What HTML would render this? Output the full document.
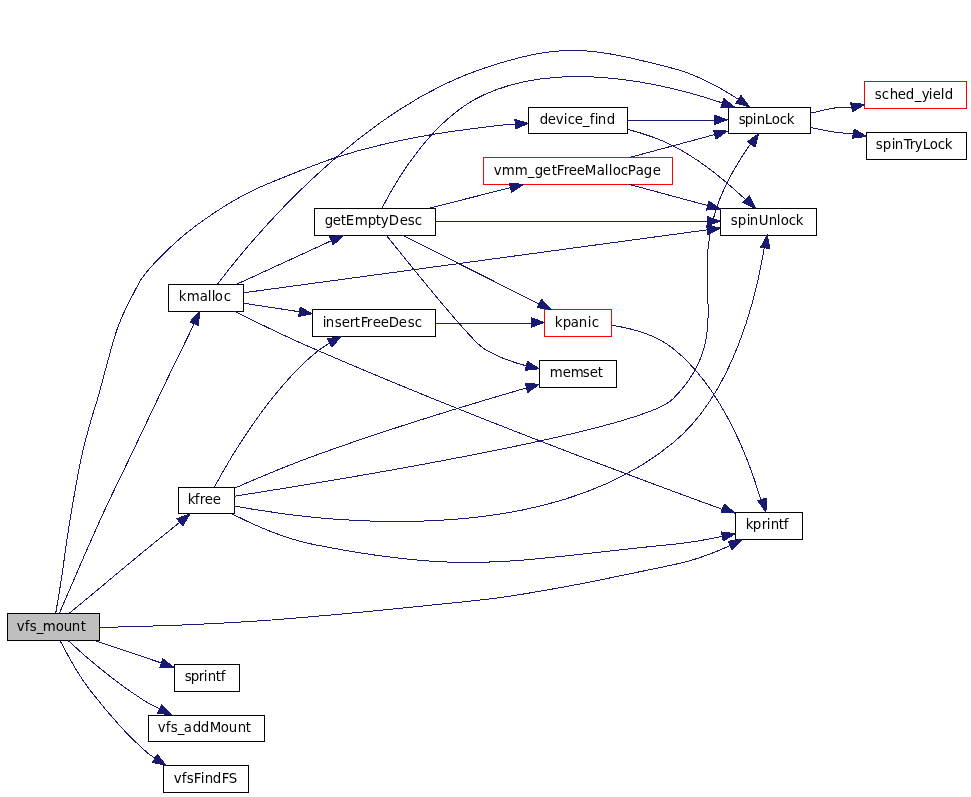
<!DOCTYPE html>
<html lang="en">
<head>
<meta charset="utf-8">
<title>vfs_mount call graph</title>
<style>
html,body{margin:0;padding:0;background:#fff;}
body{width:971px;height:797px;overflow:hidden;}
svg{display:block;}
.n rect{stroke-width:1;shape-rendering:crispEdges;}
.n text{filter:grayscale(1);font-family:"DejaVu Sans","Liberation Sans",sans-serif;font-size:13.33px;fill:#000;}
.e path{fill:none;stroke:#191970;stroke-width:1;shape-rendering:crispEdges;}
.e polygon{fill:#191970;stroke:#191970;stroke-width:1;stroke-linejoin:round;shape-rendering:crispEdges;}
</style>
</head>
<body>
<svg width="971" height="797" viewBox="0 0 971 797">
<rect x="0" y="0" width="971" height="797" fill="#ffffff"/>
<g class="n">
<rect x="7.5" y="613.5" width="92" height="27" fill="#bfbfbf" stroke="#000000"/>
<text x="16.79 24.79 29.79 36.79 42.79 55.79 63.79 71.79 80.79" y="631">vfs_mount</text>
<rect x="528.5" y="107.5" width="99" height="26" fill="#ffffff" stroke="#000000"/>
<text x="539.79 547.79 555.79 563.79 567.79 574.79 582.79 589.79 594.79 597.79 606.79" y="124">device_find</text>
<rect x="178.5" y="487.5" width="56" height="26" fill="#ffffff" stroke="#000000"/>
<text x="187.79 194.79 199.79 204.79 212.79" y="504">kfree</text>
<rect x="735.5" y="512.5" width="67" height="27" fill="#ffffff" stroke="#000000"/>
<text x="745.79 752.79 761.79 766.79 770.79 778.79 783.79" y="529">kprintf</text>
<rect x="168.5" y="284.5" width="75" height="27" fill="#ffffff" stroke="#000000"/>
<text x="178.79 186.79 199.79 207.79 211.79 214.79 223.79" y="301">kmalloc</text>
<rect x="174.5" y="664.5" width="65" height="27" fill="#ffffff" stroke="#000000"/>
<text x="184.79 190.79 198.79 203.79 207.79 215.79 220.79" y="681">sprintf</text>
<rect x="148.5" y="715.5" width="116" height="26" fill="#ffffff" stroke="#000000"/>
<text x="157.79 165.79 170.79 177.79 183.79 192.79 200.79 209.79 220.79 228.79 237.79 245.79" y="732">vfs_addMount</text>
<rect x="163.5" y="765.5" width="85" height="27" fill="#ffffff" stroke="#000000"/>
<text x="173.79 181.79 186.79 193.79 200.79 204.79 212.79 221.79 228.79" y="783">vfsFindFS</text>
<rect x="728.5" y="107.5" width="82" height="26" fill="#ffffff" stroke="#000000"/>
<text x="738.79 744.79 752.79 756.79 764.79 771.79 779.79 786.79" y="124">spinLock</text>
<rect x="720.5" y="208.5" width="96" height="27" fill="#ffffff" stroke="#000000"/>
<text x="730.79 737.79 746.79 749.79 758.79 768.79 776.79 780.79 788.79 795.79" y="225">spinUnlock</text>
<rect x="864.5" y="81.5" width="102" height="27" fill="#ffffff" stroke="#ff0000"/>
<text x="874.79 881.79 889.79 897.79 905.79 914.79 921.79 928.79 932.79 940.79 944.79" y="99">sched_yield</text>
<rect x="866.5" y="132.5" width="100" height="27" fill="#ffffff" stroke="#000000"/>
<text x="875.79 882.79 891.79 894.79 903.79 909.79 914.79 922.79 929.79 937.79 944.79" y="149">spinTryLock</text>
<rect x="312.5" y="309.5" width="123" height="27" fill="#ffffff" stroke="#000000"/>
<text x="322.79 325.79 334.79 341.79 349.79 354.79 360.79 366.79 372.79 380.79 388.79 398.79 407.79 414.79" y="327">insertFreeDesc</text>
<rect x="539.5" y="360.5" width="77" height="27" fill="#ffffff" stroke="#000000"/>
<text x="549.79 562.79 570.79 582.79 589.79 597.79" y="377">memset</text>
<rect x="544.5" y="309.5" width="67" height="27" fill="#ffffff" stroke="#ff0000"/>
<text x="554.79 562.79 570.79 578.79 587.79 591.79" y="327">kpanic</text>
<rect x="314.5" y="208.5" width="121" height="27" fill="#ffffff" stroke="#000000"/>
<text x="324.79 332.79 340.79 345.79 354.79 367.79 375.79 380.79 388.79 399.79 407.79 414.79" y="225">getEmptyDesc</text>
<rect x="483.5" y="157.5" width="189" height="27" fill="#ffffff" stroke="#ff0000"/>
<text x="493.79 501.79 514.79 527.79 534.79 542.79 551.79 556.79 563.79 568.79 576.79 584.79 596.79 604.79 608.79 612.79 620.79 627.79 635.79 643.79 652.79" y="175">vmm_getFreeMallocPage</text>
</g>
<g class="e">
<path d="M55.7,613.4 C56.7,607.32 59.58,590.77 61.7,576.9 63.82,563.03 65.33,549.12 68.4,530.2 71.47,511.28 76.48,481.2 80.1,463.4 83.72,445.6 87.05,434.63 90.1,423.4 93.15,412.17 93.95,411.53 98.4,396 102.85,380.47 110.95,347.28 116.8,330.2 122.65,313.12 128.5,303.23 133.5,293.5 138.5,283.77 139.02,280.98 146.8,271.8 154.58,262.62 169.08,248.13 180.2,238.4 191.32,228.67 201.82,221.18 213.5,213.4 225.18,205.62 236.95,198.37 250.3,191.7 263.65,185.03 279.48,179.05 293.6,173.4 307.72,167.75 320.58,162.52 335,157.8 349.42,153.08 363.97,148.97 380.1,145.1 396.23,141.23 415.25,137.48 431.8,134.6 448.35,131.72 467.33,129.42 479.4,127.8 491.47,126.18 498.23,125.49 504.2,124.9 510.17,124.31 513.37,124.34 515.2,124.23 L516.2,124.16"/>
<polygon points="515.53,128.89 528.5,123.3 514.88,119.57"/>
<path d="M69.2,613.4 C74.33,609.13 88.2,597.62 100,587.8 111.8,577.98 126.71,565.42 140,554.5 153.29,543.58 173.11,527.66 179.73,522.29 L180.5,521.66"/>
<polygon points="182.7,525.89 190,513.8 176.75,518.7"/>
<path d="M99.5,627.5 C113.32,627.08 154.85,626.17 182.4,625 209.95,623.83 237.33,622.42 264.8,620.5 292.27,618.58 319.73,616.03 347.2,613.5 374.67,610.97 404.13,607.95 429.6,605.3 455.07,602.65 477.18,600.73 500,597.6 522.82,594.47 545.02,590.43 566.5,586.5 587.98,582.57 608.8,578.17 628.9,574 649,569.83 672.53,565.25 687.1,561.5 701.67,557.75 709.15,554.18 716.3,551.5 723.45,548.82 727.73,546.45 730.02,545.44 L730.91,545"/>
<polygon points="732.06,549.63 742,539.6 727.97,541.24"/>
<path d="M59.3,613.4 C66.1,597.85 87.73,547.33 100.1,520.1 112.47,492.87 122.38,473.35 133.5,450 144.62,426.65 156.68,401.04 166.8,380 176.92,358.96 189.64,333.16 194.2,323.79 L194.61,322.87"/>
<polygon points="198.48,325.68 199.6,311.6 189.93,321.9"/>
<path d="M94.63,640.44 C114.57,647.17 138.79,655.36 159.45,662.33 L162.34,663.57"/>
<polygon points="162.89,658.83 174.03,667.52 159.9,667.68"/>
<path d="M68.1,640.5 C71.68,643.7 81.03,652.52 89.6,659.7 98.17,666.88 110.53,676.87 119.5,683.6 128.47,690.33 136.69,695.88 143.4,700.1 150.11,704.32 157.01,707.45 159.74,708.92 L160.63,709.38"/>
<polygon points="157.61,713.08 171.6,715 161.87,704.77"/>
<path d="M59.9,640.5 C62.37,644.95 69.75,659.02 74.7,667.2 79.65,675.38 82.13,679.9 89.6,689.6 97.07,699.3 110.53,715.45 119.5,725.4 128.47,735.35 137.5,743.81 143.4,749.3 149.3,754.79 152.98,756.84 154.89,758.34 L155.74,758.87"/>
<polygon points="152.42,762.31 166.2,765.4 157.36,754.38"/>
<path d="M627.91,120.5 C654.22,120.5 686.82,120.5 713.9,120.5 L715.17,119.83"/>
<polygon points="714.17,115.17 727.5,119.83 714.17,124.5"/>
<path d="M627.9,129.45 C642.79,133.31 658.91,138.59 672.83,145.67 699.59,159.28 725.87,181.28 743.94,198.11 L746.54,199.77"/>
<polygon points="749.05,195.7 755.45,208.3 742.59,202.45"/>
<path d="M810.5,113.2 C812.18,112.82 817.2,111.67 820.6,110.9 824,110.13 827.47,109.22 830.9,108.6 834.33,107.98 837.75,107.4 841.2,107.2 844.65,107 849.87,107.35 851.61,107.38 L852.58,107.15"/>
<polygon points="852.65,111.93 864.6,104.4 850.56,102.82"/>
<path d="M810.5,127.4 C812.7,127.87 819.27,129.35 823.7,130.2 828.13,131.05 833.22,131.98 837.1,132.5 840.98,133.02 844.29,133.1 847,133.3 849.71,133.5 852.29,133.61 853.35,133.67 L854.33,133.88"/>
<polygon points="852.4,138.24 866.4,136.4 854.31,129.1"/>
<path d="M234.41,496.21 C328.83,481.49 641.19,430.79 672.83,399 738.14,333.4 685.5,281.89 720.83,196.33 728.23,178.4 739.58,159.81 749.22,145.52 L751.77,143.59"/>
<polygon points="747.37,141.74 758.81,133.47 755.03,147.07"/>
<path d="M234.39,505.96 C312.27,520.61 540.83,551.6 672.83,443 733.99,392.68 756.47,295.59 764.03,248.53 L765.41,246.94"/>
<polygon points="760.65,247.25 767.19,234.73 769.89,248.6"/>
<path d="M214.55,486.73 C229.5,459 266.79,395.12 312.83,355 317.81,350.67 323.46,346.71 329.26,343.16 L330.45,342.49"/>
<polygon points="327.3,338.91 341.21,336.47 331.86,347.05"/>
<path d="M231.73,513.71 C252.53,524.39 283.69,538.49 312.83,544.33 469.71,575.79 513.59,559.88 672.83,544.33 689.09,542.75 706.67,539.67 722.25,536.45 L723.25,536.23"/>
<polygon points="721.29,531.88 735.31,533.63 723.26,541"/>
<path d="M234.51,488.24 C255.63,478.99 285.83,466.17 312.83,456.33 386.26,429.57 472.99,403.43 526.46,387.93 L527.46,387.65"/>
<polygon points="525.21,383.44 539.31,384.23 527.79,392.41"/>
<path d="M435.9,323.5 C466.42,323.5 502.86,323.5 531.03,323.5 L532.21,322.5"/>
<polygon points="531.21,317.83 544.54,322.5 531.21,327.17"/>
<path d="M611.78,325.35 C631.23,328.21 655.5,334.52 672.83,348.33 722.21,387.67 749.07,459.96 760.58,498.99 L762.55,500.3"/>
<polygon points="766.78,498.08 765.86,512.19 757.79,500.59"/>
<path d="M217.59,283.99 C250.14,241.19 357.61,110.29 483.5,68.33 563.33,41.72 591.33,47.43 672.83,68.33 696.3,74.36 720.19,87.55 738.1,99.13 L739.24,99.89"/>
<polygon points="741.02,95.47 749.46,106.79 735.79,103.2"/>
<path d="M243.81,292.73 C337.9,279.97 590.39,245.71 706.97,229.88 L708.28,229.71"/>
<polygon points="706.66,225.21 720.5,228.04 707.91,234.47"/>
<path d="M243.78,303.23 C260.15,305.73 280.11,308.8 299.41,311.75 L300.4,311.9"/>
<polygon points="300.11,307.13 312.59,313.77 298.7,316.36"/>
<path d="M234.09,311.15 C255.22,321.71 285.66,336.52 312.83,348.33 460.78,412.65 640.15,479.39 722.38,509.37 L723.59,508.81"/>
<polygon points="724.25,504.08 735.18,513.03 721.06,512.85"/>
<path d="M236.67,284.25 C262.85,272.23 301.53,254.44 330.99,240.91 L332.18,240.36"/>
<polygon points="329.33,236.53 343.39,235.2 333.22,245.01"/>
<path d="M382.05,207.96 C396.09,180.37 432.07,118.73 483.5,95 560.85,59.31 662.54,83.05 720.9,102.45 L723.26,103.35"/>
<polygon points="723.83,98.61 734.91,107.37 720.79,107.43"/>
<path d="M435.03,221.5 C508.47,221.5 632.67,221.5 706.69,221.5 L708.02,221.17"/>
<polygon points="707.02,216.5 720.35,221.17 707.02,225.83"/>
<path d="M402.23,235.12 C436.98,252.61 497.93,283.28 537.83,303.37 L540.47,303.94"/>
<polygon points="541.68,299.32 551.49,309.49 537.48,307.67"/>
<path d="M386.25,235.16 C411.06,266.17 471.18,340.52 483.5,348.33 496.31,356.45 511.7,362 526.26,365.77 L527.27,366"/>
<polygon points="527.34,361.23 539.3,368.76 525.26,370.33"/>
<path d="M428.93,208.23 C453.94,201.93 483.99,194.36 510.45,187.71 L511.54,187.43"/>
<polygon points="509.43,183.15 523.51,184.41 511.71,192.2"/>
<path d="M629.39,157.56 C655.63,150.48 687.81,141.81 714.5,134.61 L715.59,134.33"/>
<polygon points="713.41,130.08 727.5,131.12 715.83,139.09"/>
<path d="M629.39,184.44 C653.37,190.91 682.29,198.71 707.46,205.48 L708.71,205.82"/>
<polygon points="708.95,201.05 720.62,209.03 706.53,210.07"/>
</g>
</svg>
</body>
</html>
